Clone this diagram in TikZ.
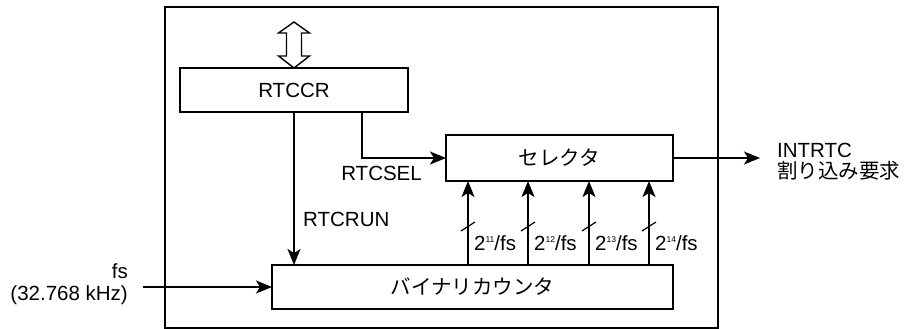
\documentclass[tikz,border=0pt]{standalone}
\usepackage{fontspec}
\setmainfont{Liberation Sans}
\newfontfamily\jpfont{Noto Sans CJK JP}
\usetikzlibrary{arrows.meta}
\begin{document}
\begin{tikzpicture}[x=1pt,y=-1pt,
  font=\fontsize{20.5}{22}\selectfont,
  box/.style={draw,line width=1.9pt,outer sep=0pt,inner sep=0pt,fill=white},
  conn/.style={line width=1.9pt},
  arr/.style={conn,-{Stealth[length=16pt,width=13pt,inset=4pt]}},
  lbl/.style={inner sep=0pt}]
\useasboundingbox (0,0) rectangle (905,329);
\node[box,minimum width=553pt,minimum height=321pt] (outer) at (441.5,167.5) {};
\node[box,minimum width=228pt,minimum height=44pt] (rtccr) at (294,90) {RTCCR};
\node[box,minimum width=227pt,minimum height=46pt] (sel) at (559.5,158) {\jpfont セレクタ};
\node[box,minimum width=401pt,minimum height=44pt] (cnt) at (472.5,287) {\jpfont バイナリカウンタ};
% bidirectional bus arrow
\draw[line width=1.4pt,fill=white] (294,22) -- (309.5,33) -- (301.5,33) -- (301.5,56) -- (309.5,56) -- (294,68) -- (278.5,56) -- (286.5,56) -- (286.5,33) -- (278.5,33) -- cycle;
% RTCSEL
\coordinate (selx) at (362,0);
\draw[arr] (rtccr.south -| selx) |- (sel.west);
\node[lbl,anchor=east] (lsel) at (422,173) {RTCSEL};
% RTCRUN
\draw[arr] (rtccr.south) -- (rtccr.south |- cnt.north);
\node[lbl,anchor=west] (lrun) at (303,219) {RTCRUN};
% taps
\foreach \x/\e [count=\i] in {468/11,528/12,589/13,649/14}{
  \coordinate (t\i) at (\x,0);
  \draw[arr] (cnt.north -| t\i) -- (sel.south -| t\i);
  \draw[line width=1.2pt] (\x-7,231) -- (\x+7,222);
  \node[lbl,anchor=west] (f\i) at (\x+6,243) {2\raisebox{8pt}{\fontsize{8.5}{9}\selectfont \e}/fs};
}
% input
\coordinate (fsin) at (143,287);
\draw[arr] (fsin) -- (cnt.west);
\node[lbl,anchor=east,align=right] (lfs) at (128,284) {fs\\(32.768 kHz)};
% output
\coordinate (intout) at (760,158);
\draw[arr] (sel.east) -- (intout);
\node[lbl,anchor=base west] (lint1) at (777,157) {INTRTC};
\node[lbl,anchor=base west] (lint2) at (777,178) {\jpfont 割り込み要求};
\end{tikzpicture}
\end{document}
